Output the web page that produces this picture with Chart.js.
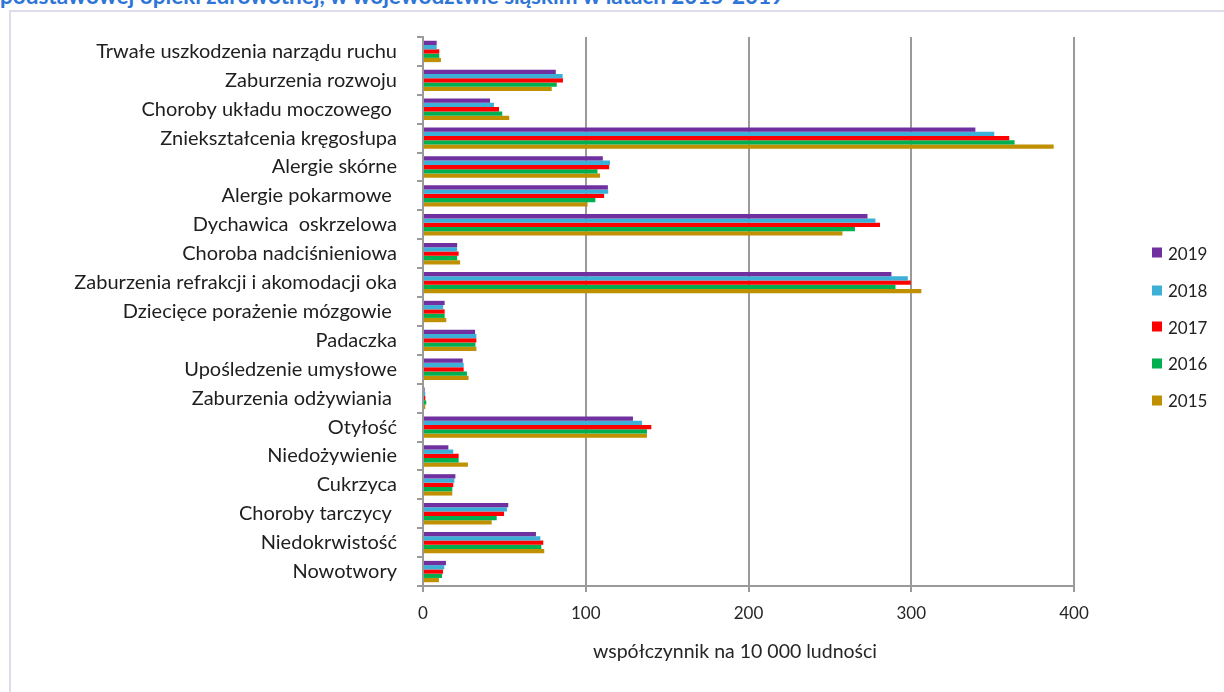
<!DOCTYPE html>
<html><head><meta charset="utf-8">
<script src="https://cdn.jsdelivr.net/npm/chart.js@4.4.1/dist/chart.umd.min.js"></script>
<style>
html,body{margin:0;padding:0;background:#fff;overflow:hidden;width:1224px;height:692px;position:relative;}
#title{position:absolute;left:0;top:-14px;font:bold 22.5px Lato,sans-serif;color:#2E75D6;white-space:nowrap;line-height:20px;}
#frame{position:absolute;left:9px;top:10px;width:1400px;height:900px;border:2px solid #DCDCEB;box-sizing:border-box;}
#wrap{position:absolute;left:0;top:0;width:1224px;height:692px;}
#xtitle{position:absolute;left:735px;top:650px;transform:translate(-50%,-50%);font:19.5px Lato,sans-serif;color:#262626;white-space:nowrap;}
.lg{position:absolute;left:1152px;font:17px Lato,sans-serif;color:#222;white-space:nowrap;transform:translateY(-50%);display:flex;align-items:center;}
.lg span.sw{display:inline-block;width:10px;height:10px;margin-right:6px;}
</style>
</head><body>
<div id="title">podstawowej opieki zdrowotnej, w województwie śląskim w latach 2015-2019</div>
<div id="frame"></div>
<div id="wrap"><canvas id="c" width="1224" height="692"></canvas></div>
<div id="xtitle">współczynnik na 10 000 ludności</div>
<div id="legend"></div>
<script>
const categories = [
  "Trwałe uszkodzenia narządu ruchu",
  "Zaburzenia rozwoju",
  "Choroby układu moczowego ",
  "Zniekształcenia kręgosłupa",
  "Alergie skórne",
  "Alergie pokarmowe ",
  "Dychawica  oskrzelowa",
  "Choroba nadciśnieniowa",
  "Zaburzenia refrakcji i akomodacji oka",
  "Dziecięce porażenie mózgowie ",
  "Padaczka",
  "Upośledzenie umysłowe",
  "Zaburzenia odżywiania ",
  "Otyłość",
  "Niedożywienie",
  "Cukrzyca",
  "Choroby tarczycy ",
  "Niedokrwistość",
  "Nowotwory"
];
const years = ["2019", "2018", "2017", "2016", "2015"];
const values2019 = [8.4, 81.6, 41.2, 339.4, 110.5, 113.6, 273.1, 21.0, 287.8, 13.3, 32.0, 24.4, 1.0, 129.0, 15.6, 19.9, 52.4, 69.4, 14.1];
const values2018 = [8.4, 85.8, 43.6, 351.0, 114.9, 113.8, 278.0, 21.0, 297.9, 12.4, 32.8, 25.0, 1.4, 134.6, 18.6, 19.3, 51.6, 72.1, 13.1];
const values2017 = [10.0, 86.0, 46.7, 360.2, 114.4, 111.3, 280.8, 21.9, 299.7, 13.3, 32.8, 25.0, 1.4, 140.3, 21.9, 18.6, 49.8, 73.9, 12.3];
const values2016 = [10.0, 82.2, 48.7, 363.5, 107.2, 105.9, 265.4, 21.0, 290.3, 13.3, 32.2, 27.0, 2.0, 137.6, 21.9, 18.0, 45.3, 72.7, 11.7];
const values2015 = [11.0, 79.1, 53.0, 387.5, 108.8, 101.1, 257.7, 22.8, 306.2, 14.3, 32.8, 28.0, 1.4, 137.6, 27.6, 18.0, 42.2, 74.5, 9.8];
const xTicks = [0, 100, 200, 300, 400];

const seriesValues = [values2019, values2018, values2017, values2016, values2015];
const colors = ["#7030A0", "#3DB0D8", "#FF0000", "#00B050", "#C09000"];
const gridColor = "#9A9A9A";

const datasets = years.map((y, i) => ({
  label: y,
  data: seriesValues[i],
  backgroundColor: colors[i],
  borderWidth: 0,
  barPercentage: 1.0,
  categoryPercentage: 0.74
}));

new Chart(document.getElementById('c'), {
  type: 'bar',
  data: { labels: categories, datasets },
  options: {
    indexAxis: 'y',
    responsive: false,
    animation: false,
    layout: { padding: { left: 0, right: 150, top: 37, bottom: 0 } },
    plugins: { legend: { display: false }, tooltip: { enabled: false } },
    scales: {
      x: {
        min: xTicks[0], max: xTicks[xTicks.length - 1],
        afterFit: s => { s.height = 106; },
        afterBuildTicks: s => { s.ticks = xTicks.map(v => ({ value: v })); },
        ticks: { font: { family: 'Lato', size: 17 }, color: '#262626', padding: 11, maxRotation: 0 },
        grid: { color: gridColor, lineWidth: 2, tickLength: 6, drawTicks: true },
        border: { color: gridColor, width: 2 }
      },
      y: {
        afterFit: s => { s.width = 423; },
        ticks: { font: { family: 'Lato', size: 20 }, color: '#1E1E1E', padding: 20, autoSkip: false },
        grid: { display: true, drawOnChartArea: false, color: gridColor, lineWidth: 2, tickLength: 6, offset: true },
        border: { color: gridColor, width: 2 }
      }
    }
  }
});

const legendCenters = [252.7, 290, 326.7, 363.3, 400];
const lg = document.getElementById('legend');
years.forEach((y, i) => {
  const d = document.createElement('div');
  d.className = 'lg';
  d.style.top = legendCenters[i] + 'px';
  d.innerHTML = '<span class="sw" style="background:' + colors[i] + '"></span>' + y;
  lg.appendChild(d);
});
</script>
</body></html>
